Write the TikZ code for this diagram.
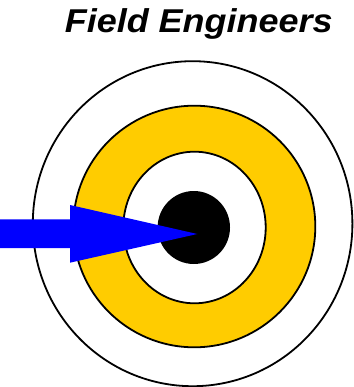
\documentclass[tikz,border=0pt]{standalone}
\usepackage{fontspec}
\setmainfont{Liberation Sans}
\definecolor{ringyellow}{RGB}{255,204,0}
\definecolor{arrowblue}{RGB}{0,0,255}
\begin{document}
\begin{tikzpicture}[x=1pt,y=-1pt,
  ring/.style={draw=black,line width=1.8pt}]
\useasboundingbox (0,0) rectangle (353,387);
\draw[ring,fill=white] (192.6,223.7) ellipse [x radius=159.8, y radius=162.5];
\draw[ring,fill=ringyellow] (194.3,226.5) ellipse [x radius=121, y radius=120.8];
\draw[ring,fill=white] (194.5,227.5) ellipse [x radius=71.2, y radius=75.8];
\fill[black] (193.8,227.5) ellipse [x radius=36.2, y radius=36.5];
\fill[arrowblue] (0,219.3) -- (70,219.3) -- (70,205) -- (197.3,234) -- (70,262.7) -- (70,248) -- (0,248) -- cycle;
\node[anchor=base,inner sep=0pt,xscale=1.09,font=\fontsize{33}{33}\selectfont\bfseries\itshape] (title) at (198.7,32.5) {Field Engineers};
\end{tikzpicture}
\end{document}
